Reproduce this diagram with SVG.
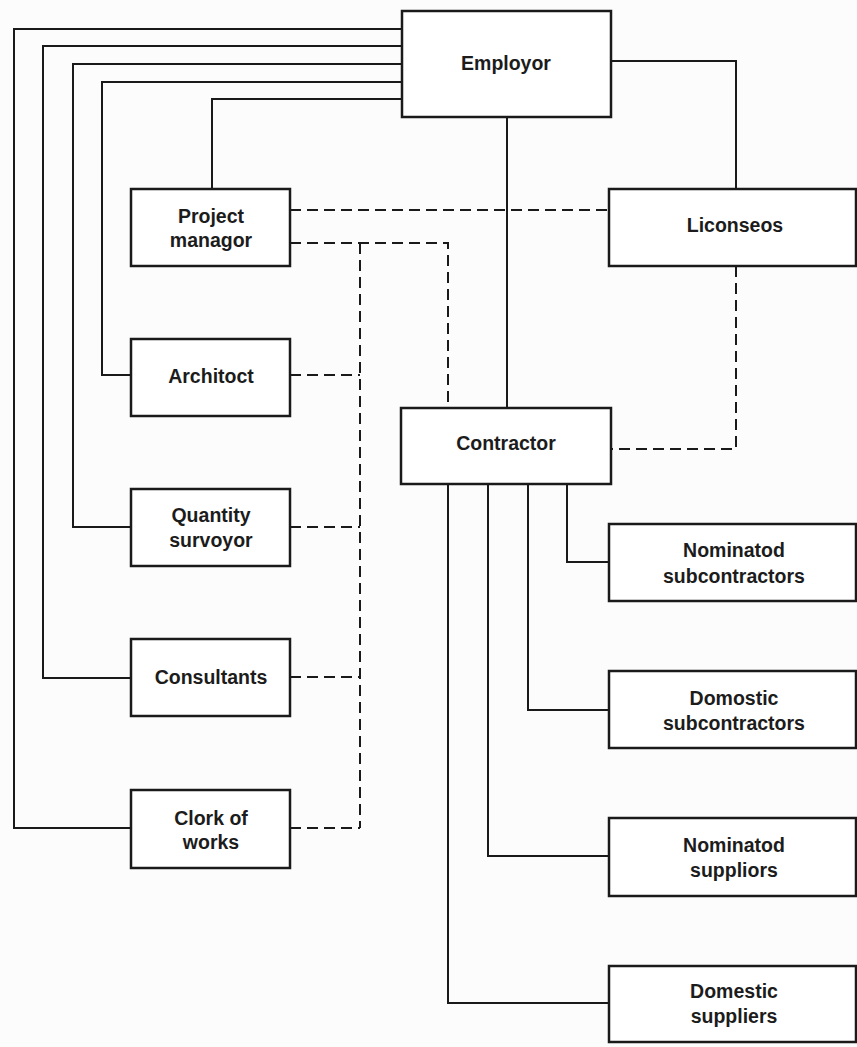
<svg xmlns="http://www.w3.org/2000/svg" width="857" height="1047" viewBox="0 0 857 1047">
  <style>
    .box { fill: #ffffff; stroke: #1a1a1a; stroke-width: 2.5; }
    .label { font-family: "Liberation Sans", Arial, sans-serif; font-size: 19.5px; font-weight: bold; fill: #1c1c1c; text-anchor: middle; }
    .solid { fill: none; stroke: #1a1a1a; stroke-width: 2; }
    .dash { fill: none; stroke: #1a1a1a; stroke-width: 2; stroke-dasharray: 11 6; }
  </style>
  <rect x="0" y="0" width="857" height="1047" fill="#fcfcfc"/>

  <!-- connectors -->
  <g id="connectors">
    <!-- formal lines from the employer -->
    <path class="solid" d="M402,29 H14 V828 H131"/>
    <path class="solid" d="M402,46 H43 V678 H131"/>
    <path class="solid" d="M402,64 H73 V527 H131"/>
    <path class="solid" d="M402,82 H102 V375 H131"/>
    <path class="solid" d="M402,99 H212 V189"/>
    <path class="solid" d="M611,61 H736 V189"/>
    <path class="solid" d="M507,117 V408"/>
    <!-- formal lines from the contractor -->
    <path class="solid" d="M567,484 V562 H609"/>
    <path class="solid" d="M528,484 V710 H609"/>
    <path class="solid" d="M488,484 V856 H609"/>
    <path class="solid" d="M448,484 V1003 H609"/>
    <!-- communication lines -->
    <path class="dash" d="M290,210 H609"/>
    <path class="dash" d="M290,243 H448 V408"/>
    <path class="dash" d="M360,243 V828"/>
    <path class="dash" d="M290,375 H360"/>
    <path class="dash" d="M290,527 H360"/>
    <path class="dash" d="M290,677 H360"/>
    <path class="dash" d="M290,828 H360"/>
    <path class="dash" d="M736,266 V449 H611"/>
  </g>

  <g id="employer">
    <rect class="box" x="402" y="11" width="209" height="106"/>
    <text class="label" x="506" y="70">Employor</text>
  </g>
  <g id="licensees">
    <rect class="box" x="609" y="189" width="247" height="77"/>
    <text class="label" x="735" y="232">Liconseos</text>
  </g>
  <g id="project-manager">
    <rect class="box" x="131" y="189" width="159" height="77"/>
    <text class="label" x="211" y="223">Project</text>
    <text class="label" x="211" y="247">managor</text>
  </g>
  <g id="architect">
    <rect class="box" x="131" y="339" width="159" height="77"/>
    <text class="label" x="211" y="383">Architoct</text>
  </g>
  <g id="quantity-surveyor">
    <rect class="box" x="131" y="489" width="159" height="77"/>
    <text class="label" x="211" y="522">Quantity</text>
    <text class="label" x="211" y="547">survoyor</text>
  </g>
  <g id="consultants">
    <rect class="box" x="131" y="639" width="159" height="77"/>
    <text class="label" x="211" y="684">Consultants</text>
  </g>
  <g id="clerk-of-works">
    <rect class="box" x="131" y="790" width="159" height="78"/>
    <text class="label" x="211" y="825">Clork of</text>
    <text class="label" x="211" y="849">works</text>
  </g>
  <g id="contractor">
    <rect class="box" x="401" y="408" width="210" height="76"/>
    <text class="label" x="506" y="450">Contractor</text>
  </g>
  <g id="nominated-subcontractors">
    <rect class="box" x="609" y="524" width="247" height="77"/>
    <text class="label" x="734" y="557">Nominatod</text>
    <text class="label" x="734" y="583">subcontractors</text>
  </g>
  <g id="domestic-subcontractors">
    <rect class="box" x="609" y="671" width="247" height="77"/>
    <text class="label" x="734" y="705">Domostic</text>
    <text class="label" x="734" y="730">subcontractors</text>
  </g>
  <g id="nominated-suppliers">
    <rect class="box" x="609" y="818" width="247" height="78"/>
    <text class="label" x="734" y="852">Nominatod</text>
    <text class="label" x="734" y="877">suppliors</text>
  </g>
  <g id="domestic-suppliers">
    <rect class="box" x="609" y="966" width="247" height="76"/>
    <text class="label" x="734" y="998">Domestic</text>
    <text class="label" x="734" y="1023">suppliers</text>
  </g>
</svg>
